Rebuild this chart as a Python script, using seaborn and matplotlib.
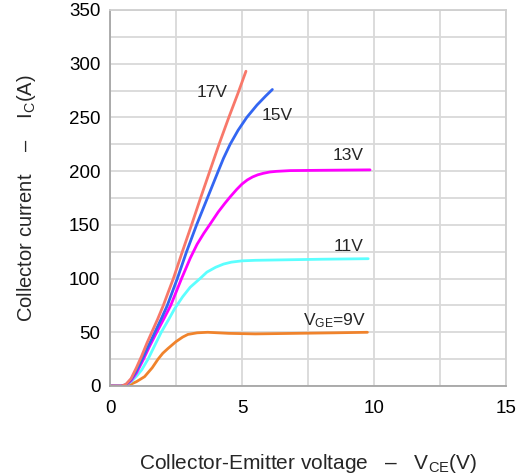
import numpy as np
import pandas as pd
import matplotlib
matplotlib.use("Agg")
import matplotlib.pyplot as plt
import seaborn as sns
from matplotlib.ticker import MultipleLocator

# ---- data ----
v17_x = [0, 0.43, 0.6, 0.8, 1.0, 1.2, 1.4, 1.6, 1.8, 2.02, 2.2, 2.4, 2.74, 3.09, 3.43, 3.78, 4.13, 4.5, 4.84, 5.15]
v17_y = [0, 0, 1.5, 7, 17, 28, 40, 51, 62, 75, 87, 100, 125, 150, 175, 200, 225, 250, 272, 293]

v15_x = [0, 0.43, 0.6, 0.8, 1.0, 1.2, 1.45, 1.7, 1.95, 2.17, 2.55, 2.9, 3.28, 3.69, 4.1, 4.3, 4.55, 4.85, 5.18, 5.57, 5.9, 6.15]
v15_y = [0, 0, 1.2, 6, 14, 24, 37, 50, 63, 75, 100, 125, 150, 175, 200, 212, 225, 238, 250, 261.6, 270, 276]

v13_x = [0, 0.43, 0.6, 0.8, 1.0, 1.25, 1.5, 1.77, 2.05, 2.3, 2.71, 3.04, 3.3, 3.55, 3.8, 4.1, 4.35, 4.55, 4.8, 5.0, 5.2, 5.4, 5.6, 5.81, 6.05, 6.3, 6.82, 8.0, 9.85]
v13_y = [0, 0, 1, 5, 12, 24, 37, 50, 63, 75, 100, 119, 132, 142, 151, 162, 170, 176, 183, 188, 191.8, 194.6, 196.6, 198, 199.2, 199.8, 200.5, 200.8, 201.2]

v11_x = [0, 0.43, 0.6, 0.8, 1.0, 1.2, 1.44, 1.7, 1.94, 2.2, 2.45, 2.75, 3.04, 3.41, 3.67, 4.0, 4.3, 4.6, 5.0, 5.5, 6.0, 8.0, 9.78]
v11_y = [0, 0, 1, 4, 9, 15, 25, 38, 50, 61, 72, 83, 92, 100, 106, 110.5, 113.5, 115.3, 116.5, 117, 117.2, 118, 118.5]

v9_x = [0, 0.43, 0.6, 0.8, 1.0, 1.31, 1.6, 1.82, 2.0, 2.2, 2.5, 2.75, 2.95, 3.3, 3.7, 4.5, 5.5, 7.0, 8.5, 9.75]
v9_y = [0, -0.5, 0.3, 1.8, 4, 8.7, 17, 25, 30.5, 35, 41.3, 45.5, 48, 49.5, 50, 49, 48.5, 49, 49.5, 50]

series_names = ["17V", "15V", "13V", "11V", "9V"]
series_colors = ["#f8786a", "#3366f2", "#ff00ff", "#5cffff", "#f0832c"]
xticks = [0, 5, 10, 15]
yticks = [0, 50, 100, 150, 200, 250, 300, 350]

# ---- style ----
sns.set_theme(style="white")
plt.rcParams["font.family"] = ["Liberation Sans", "DejaVu Sans"]
plt.rcParams["mathtext.fontset"] = "custom"
plt.rcParams["mathtext.rm"] = "Liberation Sans"
plt.rcParams["mathtext.it"] = "Liberation Sans"

fig = plt.figure(figsize=(5.22, 4.76), dpi=100)
ax = fig.add_axes([110 / 522, 1 - 386 / 476, 396 / 522, 376 / 476])

xs = [v17_x, v15_x, v13_x, v11_x, v9_x]
ys = [v17_y, v15_y, v13_y, v11_y, v9_y]
for name, col, x, y in reversed(list(zip(series_names, series_colors, xs, ys))):
    df = pd.DataFrame({"Vce": x, "Ic": y})
    sns.lineplot(data=df, x="Vce", y="Ic", ax=ax, color=col, linewidth=2.0,
                 sort=False, estimator=None)
for ln in ax.lines:
    ln.set_solid_joinstyle("round")
    ln.set_solid_capstyle("round")

ax.set_xlim(0, 15)
ax.set_ylim(0, 350)
ax.set_xticks(xticks)
ax.set_yticks(yticks)
ax.xaxis.set_minor_locator(MultipleLocator(2.5))
ax.yaxis.set_minor_locator(MultipleLocator(25))
ax.grid(which="both", color="#d9d9d9", linewidth=1.3)
ax.set_axisbelow(True)
ax.tick_params(which="both", length=0, labelsize=13.5, colors="black")
ax.tick_params(axis="x", pad=10)
ax.tick_params(axis="y", pad=7)
for s in ["left", "bottom"]:
    ax.spines[s].set_color("#a6a6a6")
    ax.spines[s].set_linewidth(1.3)
for s in ["top", "right"]:
    ax.spines[s].set_color("#cfcfcf")
    ax.spines[s].set_linewidth(1.3)

ax.set_xlabel(r"Collector-Emitter voltage   –   V$_{\mathrm{CE}}$(V)", fontsize=15, labelpad=25)
ax.set_ylabel(r"Collector current    –    I$_{\mathrm{C}}$(A)", fontsize=14.5, labelpad=22)

fs = 12.5
ax.text(3.28, 273.5, "17V", fontsize=fs, va="center", ha="left")
ax.text(5.75, 251.4, "15V", fontsize=fs, va="center", ha="left")
ax.text(9.6, 215, "13V", fontsize=fs, va="center", ha="right")
ax.text(9.6, 129.5, "11V", fontsize=fs, va="center", ha="right")
ax.text(9.7, 61, r"V$_{\mathrm{GE}}$=9V", fontsize=fs, va="center", ha="right")

fig.savefig("out.png", dpi=100)
